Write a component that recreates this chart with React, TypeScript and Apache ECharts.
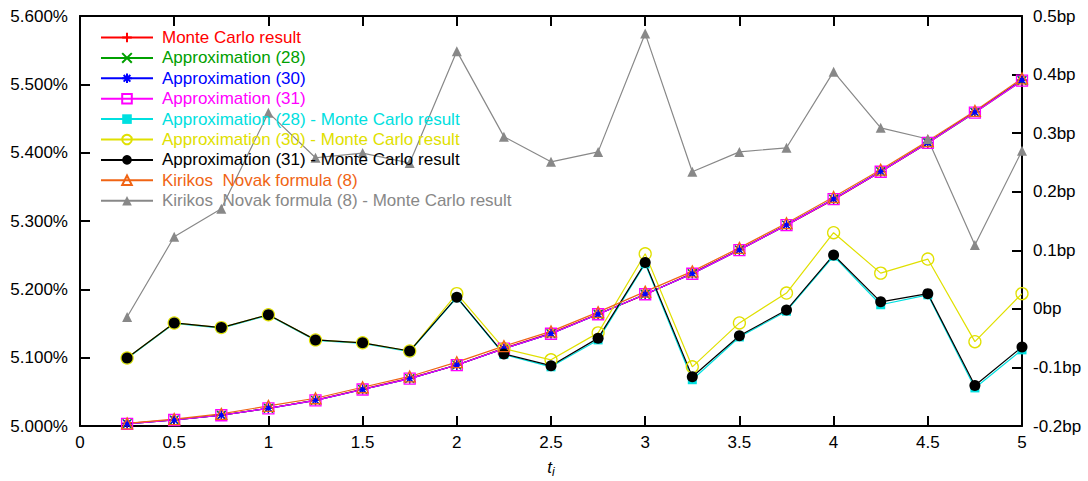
import React, { useEffect, useRef } from "react";
import * as echarts from "echarts";

const tValues = [0.25, 0.5, 0.75, 1, 1.25, 1.5, 1.75, 2, 2.25, 2.5, 2.75, 3, 3.25, 3.5, 3.75, 4, 4.25, 4.5, 4.75, 5];

// Rates in percent (left axis)
const monteCarlo = [5.0040, 5.0090, 5.0160, 5.0260, 5.0380, 5.0540, 5.0700, 5.0890, 5.1140, 5.1360, 5.1640, 5.1920, 5.2240, 5.2580, 5.2940, 5.3310, 5.3720, 5.4140, 5.4600, 5.5060];
const approx28 = [5.0032, 5.0088, 5.0157, 5.0259, 5.0375, 5.0534, 5.0693, 5.0892, 5.1132, 5.1350, 5.1635, 5.1928, 5.2228, 5.2575, 5.2940, 5.3319, 5.3721, 5.4142, 5.4586, 5.5053];
const approx30 = [5.0032, 5.0088, 5.0157, 5.0259, 5.0375, 5.0534, 5.0693, 5.0893, 5.1133, 5.1351, 5.1636, 5.1929, 5.2230, 5.2578, 5.2943, 5.3323, 5.3726, 5.4149, 5.4594, 5.5063];
const approx31 = [5.0032, 5.0088, 5.0157, 5.0259, 5.0375, 5.0534, 5.0693, 5.0892, 5.1132, 5.1350, 5.1635, 5.1928, 5.2228, 5.2575, 5.2940, 5.3319, 5.3721, 5.4143, 5.4587, 5.5053];
const kirikos = [5.0039, 5.0102, 5.0177, 5.0294, 5.0406, 5.0567, 5.0725, 5.0934, 5.1169, 5.1385, 5.1667, 5.1967, 5.2263, 5.2607, 5.2968, 5.3351, 5.3751, 5.4169, 5.4611, 5.5087];

// Differences in basis points (right axis)
const diff28 = [-0.085, -0.025, -0.033, -0.011, -0.054, -0.059, -0.073, 0.019, -0.078, -0.099, -0.053, 0.077, -0.121, -0.048, -0.004, 0.090, 0.007, 0.024, -0.135, -0.070];
const diff30 = [-0.084, -0.024, -0.032, -0.010, -0.053, -0.058, -0.072, 0.026, -0.068, -0.087, -0.041, 0.094, -0.099, -0.024, 0.027, 0.130, 0.061, 0.085, -0.056, 0.026];
const diff31 = [-0.084, -0.024, -0.032, -0.010, -0.053, -0.058, -0.072, 0.020, -0.077, -0.097, -0.050, 0.079, -0.116, -0.046, -0.002, 0.092, 0.012, 0.026, -0.131, -0.065];
const diffKirikos = [-0.014, 0.123, 0.171, 0.335, 0.258, 0.266, 0.249, 0.440, 0.294, 0.251, 0.268, 0.470, 0.234, 0.268, 0.275, 0.405, 0.309, 0.290, 0.109, 0.270];

const xTicks = { min: 0, max: 5, interval: 0.5 };
const leftTicks = { min: 5.0, max: 5.6, interval: 0.1 };
const rightTicks = { min: -0.2, max: 0.5, interval: 0.1 };

const FONT = "'Liberation Sans', Arial, Helvetica, sans-serif";

const pair = (ys: number[]) => tValues.map((t, i) => [t, ys[i]]);

const SYM_PLUS = "path://M0,5L10,5M5,0L5,10";
const SYM_X = "path://M0,0L10,10M10,0L0,10";
const SYM_STAR = "path://M0,5L10,5M5,0L5,10M1.5,1.5L8.5,8.5M8.5,1.5L1.5,8.5";

type Def = {
  name: string;
  data: number[];
  color: string;
  axis: number;
  symbol: string;
  size: number;
  filled: boolean;
};

const defs: Def[] = [
  { name: "Monte Carlo result", data: monteCarlo, color: "#ff0000", axis: 0, symbol: SYM_PLUS, size: 10, filled: false },
  { name: "Approximation (28)", data: approx28, color: "#00a000", axis: 0, symbol: SYM_X, size: 9, filled: false },
  { name: "Approximation (30)", data: approx30, color: "#0000ff", axis: 0, symbol: SYM_STAR, size: 10, filled: false },
  { name: "Approximation (31)", data: approx31, color: "#ff00ff", axis: 0, symbol: "rect", size: 11, filled: false },
  { name: "Approximation (28) - Monte Carlo result", data: diff28, color: "#00e0e0", axis: 1, symbol: "rect", size: 9, filled: true },
  { name: "Approximation (30) - Monte Carlo result", data: diff30, color: "#e0e000", axis: 1, symbol: "circle", size: 12, filled: false },
  { name: "Approximation (31) - Monte Carlo result", data: diff31, color: "#000000", axis: 1, symbol: "circle", size: 11, filled: true },
  { name: "Kirikos  Novak formula (8)", data: kirikos, color: "#f06414", axis: 0, symbol: "triangle", size: 11, filled: false },
  { name: "Kirikos  Novak formula (8) - Monte Carlo result", data: diffKirikos, color: "#888888", axis: 1, symbol: "triangle", size: 10, filled: true },
];

export default function App() {
  const ref = useRef<HTMLDivElement>(null);

  useEffect(() => {
    if (!ref.current) return;
    const chart = echarts.init(ref.current, undefined, { renderer: "svg" });

    const axisLine = { show: true, onZero: false, lineStyle: { color: "#000", width: 2 } };
    const axisTick = { show: true, inside: true, length: 10, lineStyle: { color: "#000", width: 2 } };
    const labelStyle = { color: "#000", fontSize: 17, fontFamily: FONT };

    const series = defs.map((d) => ({
      name: d.name,
      type: "line",
      yAxisIndex: d.axis,
      xAxisIndex: 0,
      data: pair(d.data),
      symbol: d.symbol,
      symbolSize: d.size,
      showAllSymbol: true,
      lineStyle: { color: d.color, width: 1.2 },
      itemStyle: {
        color: d.filled ? d.color : "rgba(0,0,0,0)",
        borderColor: d.color,
        borderWidth: d.filled ? 0 : 1.3,
      },
      emphasis: { disabled: true },
    }));

    chart.setOption({
      animation: false,
      textStyle: { fontFamily: FONT },
      grid: { left: 80, right: 66, top: 16, bottom: 55, containLabel: false, outerBoundsMode: "none" },
      legend: {
        orient: "vertical",
        left: 100,
        top: 28,
        itemWidth: 52,
        itemHeight: 12,
        itemGap: 1.4,
        padding: 0,
        selectedMode: false,
        data: defs.map((d) => ({
          name: d.name,
          textStyle: { color: d.color, fontSize: 17, fontFamily: FONT, lineHeight: 19, padding: [0, 0, 0, 4] },
        })),
      },
      xAxis: [
        {
          type: "value",
          ...xTicks,
          position: "bottom",
          axisLine,
          axisTick,
          splitLine: { show: false },
          axisLabel: { ...labelStyle, margin: 8 },
          name: "{a|t}{b|i}",
          nameLocation: "middle",
          nameGap: 30,
          nameTextStyle: {
            rich: {
              a: { fontStyle: "italic", fontSize: 17, fontFamily: FONT, color: "#000" },
              b: { fontStyle: "italic", fontSize: 12, fontFamily: FONT, color: "#000", padding: [10, 0, 0, 0] },
            },
          },
        },
        {
          type: "value",
          ...xTicks,
          position: "top",
          axisLine,
          axisTick,
          splitLine: { show: false },
          axisLabel: { show: false },
        },
      ],
      yAxis: [
        {
          type: "value",
          ...leftTicks,
          position: "left",
          axisLine,
          axisTick,
          splitLine: { show: false },
          axisLabel: { ...labelStyle, margin: 12, formatter: (v: number) => v.toFixed(3) + "%" },
        },
        {
          type: "value",
          ...rightTicks,
          position: "right",
          axisLine,
          axisTick,
          splitLine: { show: false },
          axisLabel: { ...labelStyle, margin: 11, formatter: (v: number) => parseFloat(v.toFixed(1)) + "bp" },
        },
      ],
      series,
    });

    return () => chart.dispose();
  }, []);

  return <div ref={ref} style={{ position: "absolute", left: 0, top: 0, width: 1088, height: 481 }} />;
}
